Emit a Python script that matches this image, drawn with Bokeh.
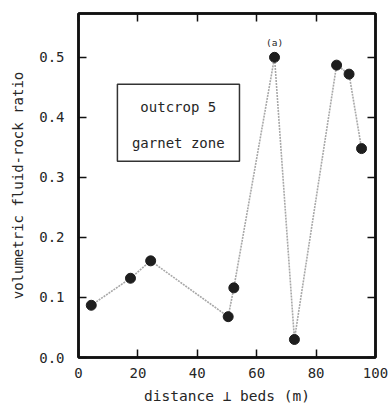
from bokeh.plotting import figure
from bokeh.models import ColumnDataSource, LinearAxis, FixedTicker, BoxAnnotation, Label, CustomJSTickFormatter, Range1d
from bokeh.core.properties import value
from bokeh.embed import file_html
from bokeh.resources import INLINE

distance = [4.3, 17.5, 24.3, 50.4, 52.3, 66.0, 72.7, 86.9, 91.1, 95.3]
ratio = [0.087, 0.132, 0.161, 0.068, 0.116, 0.500, 0.030, 0.487, 0.472, 0.348]
x_ticks = [0, 20, 40, 60, 80, 100]
y_ticks = [0.0, 0.1, 0.2, 0.3, 0.4, 0.5]
y_tick_labels = {0.0: "0.0", 0.1: "0.1", 0.2: "0.2", 0.3: "0.3", 0.4: "0.4", 0.5: "0.5"}
annot_x = [66.0]
annot_y = [0.500]
annot_text = ["(a)"]

FONT = "DejaVu Sans Mono"
TXT = "#262626"

p = figure(width=390, height=407, output_backend="svg", toolbar_location=None,
           x_range=Range1d(0, 100), y_range=Range1d(0, 0.573),
           min_border_left=78, min_border_right=15, min_border_top=13, min_border_bottom=50)
p.background_fill_color = "white"
p.border_fill_color = "white"
p.xgrid.visible = False
p.ygrid.visible = False
p.outline_line_color = "#111111"
p.outline_line_width = 2.5
p.outline_line_alpha = 1.0

src = ColumnDataSource(dict(x=distance, y=ratio))
p.line("x", "y", source=src, line_color="#a8a8a8", line_width=1.6, line_dash="2 1")
p.scatter("x", "y", source=src, size=10, fill_color="#1e1e1e", line_color="#1e1e1e")

asrc = ColumnDataSource(dict(x=annot_x, y=annot_y, t=annot_text))
p.text("x", "y", text="t", source=asrc, text_align="center", text_baseline="bottom",
       y_offset=-9, text_font=value(FONT), text_font_size="9.5px", text_color=TXT)

def style(ax):
    ax.axis_line_color = "#111111"
    ax.axis_line_width = 2.5
    ax.major_tick_in = 8
    ax.major_tick_out = 0
    ax.major_tick_line_color = "#111111"
    ax.major_tick_line_width = 1.5
    ax.minor_tick_line_color = None
    ax.major_label_text_font = FONT
    ax.major_label_text_font_size = "14px"
    ax.major_label_text_color = TXT
    ax.axis_label_text_font = FONT
    ax.axis_label_text_font_style = "normal"
    ax.axis_label_text_color = TXT

xa = p.xaxis[0]
style(xa)
xa.ticker = FixedTicker(ticks=x_ticks)
xa.major_label_standoff = 10
xa.axis_label = "distance \u22a5 beds (m)"
xa.axis_label_text_font_size = "14.5px"
xa.axis_label_standoff = 7

ya = p.yaxis[0]
style(ya)
ya.ticker = FixedTicker(ticks=y_ticks)
ya.major_label_overrides = y_tick_labels
ya.major_label_standoff = 14
ya.axis_label = "volumetric fluid-rock ratio"
ya.axis_label_text_font_size = "14px"
ya.axis_label_standoff = 10

empty = CustomJSTickFormatter(code="return ''")
top = LinearAxis(ticker=FixedTicker(ticks=x_ticks), formatter=empty)
style(top)
top.major_label_standoff = 0
top.major_label_text_font_size = "1px"
p.add_layout(top, "above")
right = LinearAxis(ticker=FixedTicker(ticks=y_ticks), formatter=empty)
style(right)
right.major_label_standoff = 0
right.major_label_text_font_size = "1px"
p.add_layout(right, "right")

box = BoxAnnotation(left=13.1, right=54.2, bottom=0.327, top=0.455,
                    fill_color=None, fill_alpha=0, line_color="#333333", line_alpha=1.0, line_width=1.5)
p.add_layout(box)
p.add_layout(Label(x=33.6, y=0.417, text="outcrop 5", text_align="center", text_baseline="middle",
                   text_font=FONT, text_font_size="14px", text_color=TXT))
p.add_layout(Label(x=33.6, y=0.358, text="garnet zone", text_align="center", text_baseline="middle",
                   text_font=FONT, text_font_size="14px", text_color=TXT))

open("out.html", "w").write(file_html(p, INLINE))
